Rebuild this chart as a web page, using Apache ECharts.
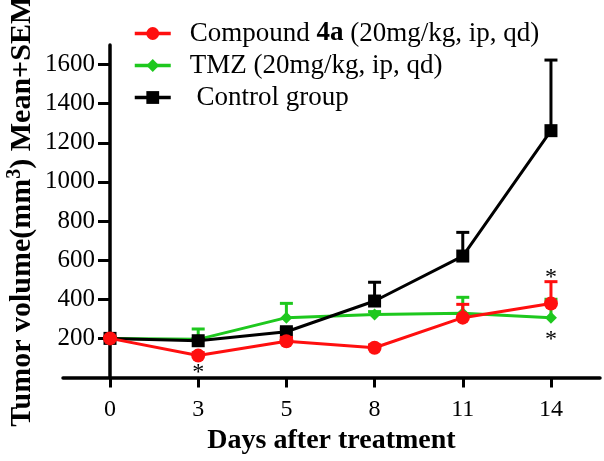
<!DOCTYPE html>
<html>
<head>
<meta charset="utf-8">
<script src="https://cdn.jsdelivr.net/npm/echarts@6/dist/echarts.min.js"></script>
<style>
html,body{margin:0;padding:0;background:#fff;}
#chart{width:604px;height:461px;}
</style>
</head>
<body>
<div id="chart"></div>
<script>
// ---- data ----
var days = ['0', '3', '5', '8', '11', '14'];
var seriesNames = ['Compound 4a (20mg/kg, ip, qd)', 'TMZ (20mg/kg, ip, qd)', 'Control group'];
var compoundMean = [200, 112, 185, 152, 306, 378];
var compoundSem  = [5, 15, 20, 15, 68, 112];
var tmzMean      = [200, 195, 306, 322, 328, 306];
var tmzSem       = [5, 53, 73, 15, 82, 94];
var controlMean  = [200, 188, 234, 391, 621, 1262];
var controlSem   = [5, 10, 15, 96, 121, 361];
var yTicks = [200, 400, 600, 800, 1000, 1200, 1400, 1600];
// significance markers: [day index, value position]
var stars = [[1, 22], [5, 510], [5, 195]];

var FONT = '"Liberation Serif", "Times New Roman", serif';
var RED = '#ff0f0f', GREEN = '#1ec81e', BLACK = '#000000';

function pts(arr) { return arr.map(function (v, i) { return [i, v]; }); }
function errData(mean, sem) { return mean.map(function (v, i) { return [i, v, v + sem[i]]; }); }

function errSeries(name, mean, sem, color, z) {
  return {
    type: 'custom', name: name + ' SEM', z: z,
    color: color,
    data: errData(mean, sem),
    encode: { x: 0, y: [1, 2] },
    renderItem: function (params, api) {
      var x = api.value(0);
      var p0 = api.coord([x, api.value(1)]);
      var p1 = api.coord([x, api.value(2)]);
      var st = { stroke: color, lineWidth: 3 };
      return {
        type: 'group', children: [
          { type: 'line', shape: { x1: p0[0], y1: p0[1], x2: p1[0], y2: p1[1] }, style: st },
          { type: 'line', shape: { x1: p1[0] - 6.5, y1: p1[1], x2: p1[0] + 6.5, y2: p1[1] }, style: st }
        ]
      };
    },
    silent: true
  };
}

function lineSeries(name, mean, color, symbol, size, z) {
  return {
    type: 'line', name: name, z: z,
    color: color,
    data: pts(mean),
    symbol: symbol, symbolSize: size,
    showAllSymbol: true,
    lineStyle: { color: color, width: 3 },
    itemStyle: { color: color, borderWidth: 0 },
    emphasis: { disabled: true },
    animation: false
  };
}

var option = {
  animation: false,
  backgroundColor: '#fff',
  grid: { left: 63, right: 4, top: 45, bottom: 83.5, containLabel: false, outerBoundsMode: 'none' },
  legend: {
    orient: 'vertical', left: 128, top: 15, itemGap: 5,
    itemWidth: 36, itemHeight: 16,
    lineStyle: { width: 3.5 },
    data: seriesNames,
    formatter: function (n) {
      if (n === seriesNames[0]) return '{n|Compound }{b|4a}{n| (20mg/kg, ip, qd)}';
      if (n === seriesNames[2]) return '{n| ' + n + '}';
      return '{n|' + n + '}';
    },
    textStyle: {
      fontFamily: FONT, fontSize: 27, color: '#000', padding: [0, 0, 0, 14],
      rich: {
        n: { fontFamily: FONT, fontSize: 27, color: '#000', lineHeight: 31 },
        b: { fontFamily: FONT, fontSize: 27, color: '#000', fontWeight: 'bold', lineHeight: 31 }
      }
    }
  },
  xAxis: {
    type: 'value', min: -0.533, max: 5.556,
    name: 'Days after treatment', nameLocation: 'middle', nameGap: 43,
    nameTextStyle: { fontFamily: FONT, fontSize: 28, fontWeight: 'bold', color: '#000' },
    axisLine: { onZero: true, lineStyle: { color: '#000', width: 3.5 } },
    axisTick: { show: true, length: 10, lineStyle: { color: '#000', width: 3 }, customValues: [0, 1, 2, 3, 4, 5] },
    axisLabel: {
      fontFamily: FONT, fontSize: 24, color: '#000', margin: 20,
      customValues: [0, 1, 2, 3, 4, 5],
      formatter: function (v) { return days[Math.round(v)]; }
    },
    splitLine: { show: false }
  },
  yAxis: {
    type: 'value', min: 0, max: 1700,
    name: '{a|Tumor volume(mm}{s|3}{a|) Mean+SEM}', nameLocation: 'middle', nameGap: 23,
    nameMoveOverlap: false,
    nameTextStyle: {
      fontFamily: FONT, fontSize: 30, fontWeight: 'bold', color: '#000',
      rich: {
        a: { fontFamily: FONT, fontSize: 30, fontWeight: 'bold', color: '#000', lineHeight: 35 },
        s: { fontFamily: FONT, fontSize: 20, fontWeight: 'bold', color: '#000', lineHeight: 18, verticalAlign: 'top' }
      }
    },
    axisLine: { show: true, onZero: true, lineStyle: { color: '#000', width: 3.5 } },
    axisTick: { show: true, length: 12, lineStyle: { color: '#000', width: 3 }, customValues: yTicks },
    axisLabel: {
      fontFamily: FONT, fontSize: 25, color: '#000', margin: -32, customValues: yTicks,
      formatter: function (v) { return String(v); }
    },
    splitLine: { show: false }
  },
  series: [
    errSeries(seriesNames[1], tmzMean, tmzSem, GREEN, 2),
    lineSeries(seriesNames[1], tmzMean, GREEN, 'diamond', 12, 3),
    errSeries(seriesNames[2], controlMean, controlSem, BLACK, 4),
    lineSeries(seriesNames[2], controlMean, BLACK, 'rect', 13, 5),
    errSeries(seriesNames[0], compoundMean, compoundSem, RED, 6),
    lineSeries(seriesNames[0], compoundMean, RED, 'circle', 14, 7),
    {
      type: 'custom', name: 'significance', z: 8, silent: true,
      data: stars,
      encode: { x: 0, y: 1 },
      renderItem: function (params, api) {
        var p = api.coord([api.value(0), api.value(1)]);
        return {
          type: 'text', x: p[0], y: p[1],
          style: { text: '*', fill: '#000', font: '24px ' + FONT, align: 'center', verticalAlign: 'middle' }
        };
      }
    }
  ]
};

var chart = echarts.init(document.getElementById('chart'), null, { renderer: 'canvas' });
chart.setOption(option);
</script>
</body>
</html>
